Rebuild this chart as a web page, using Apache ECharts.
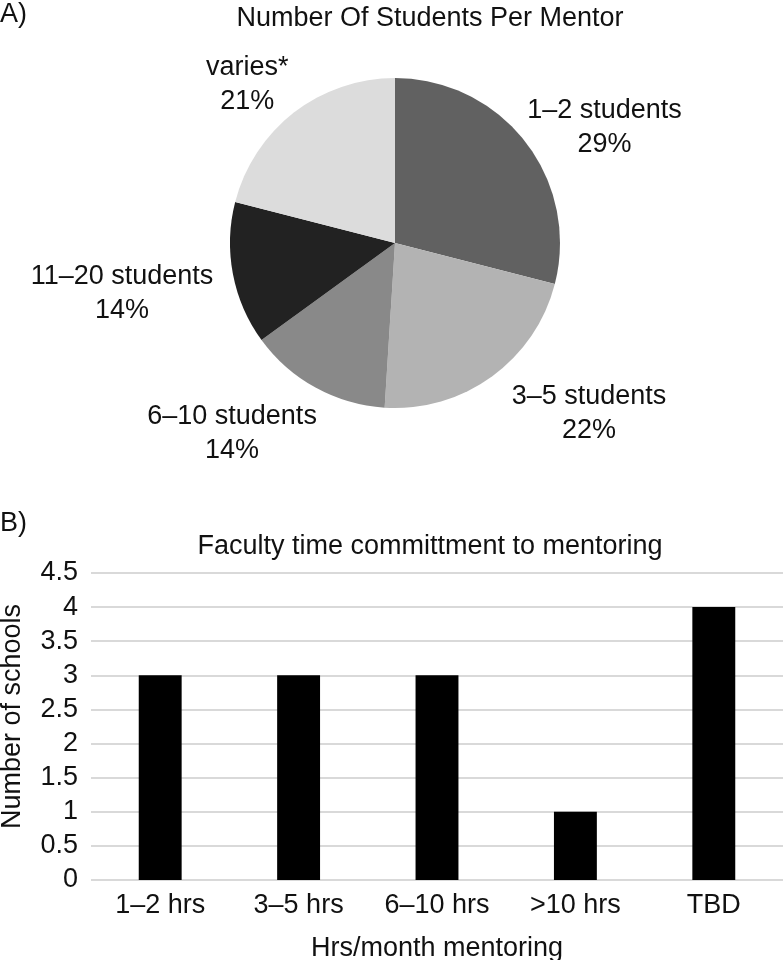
<!DOCTYPE html>
<html><head><meta charset="utf-8">
<script src="https://cdn.jsdelivr.net/npm/echarts@6/dist/echarts.min.js"></script>
<style>html,body{margin:0;padding:0;background:#fff}#c{width:783px;height:960px}</style>
</head><body><div id="c"></div>
<script>
var pieCategories = ['1–2 students', '3–5 students', '6–10 students', '11–20 students', 'varies*'];
var pieValues = [29, 22, 14, 14, 21];
var pieColors = ['#616161', '#b3b3b3', '#898989', '#222222', '#dcdcdc'];
var barCategories = ['1–2 hrs', '3–5 hrs', '6–10 hrs', '>10 hrs', 'TBD'];
var barValues = [3, 3, 3, 1, 4];

// small nudges to mimic the spreadsheet's "best fit" label placement
var pieLabelNudge = [[-19, -2], [3, 21], [16, 28], [5, 16], [12, -12]];

var FONT = 'Liberation Sans, Arial, sans-serif';
var FS = 27;
var chart = echarts.init(document.getElementById('c'), null, {renderer: 'canvas'});
var titleStyle = {fontFamily: FONT, fontSize: FS, fontWeight: 'normal', color: '#111'};
chart.setOption({
  backgroundColor: '#fff',
  animation: false,
  textStyle: {fontFamily: FONT, color: '#111'},
  title: [
    {text: 'A)', left: 0, top: 1, padding: 0, textStyle: titleStyle},
    {text: 'Number Of Students Per Mentor', left: 430, top: 5, padding: 0, textAlign: 'center', textStyle: titleStyle},
    {text: 'B)', left: 0, top: 510, padding: 0, textStyle: titleStyle},
    {text: 'Faculty time committment to mentoring', left: 430, top: 533, padding: 0, textAlign: 'center', textStyle: titleStyle}
  ],
  grid: {left: 91, right: 0, top: 573, height: 307, outerBoundsMode: 'none', containLabel: false},
  xAxis: {
    type: 'category', data: barCategories,
    axisLine: {show: false}, axisTick: {show: false},
    axisLabel: {fontSize: FS, color: '#111', fontFamily: FONT, margin: 12, interval: 0},
    name: 'Hrs/month mentoring', nameLocation: 'middle', nameGap: 55,
    nameTextStyle: {fontSize: FS, color: '#111', fontFamily: FONT}
  },
  yAxis: {
    type: 'value', min: 0, max: 4.5, interval: 0.5,
    axisLine: {show: false}, axisTick: {show: false},
    axisLabel: {fontSize: FS, color: '#111', fontFamily: FONT, margin: 13},
    splitLine: {lineStyle: {color: '#d9d9d9', width: 2}},
    name: 'Number of schools', nameLocation: 'middle', nameGap: 65,
    nameTextStyle: {fontSize: FS, color: '#111', fontFamily: FONT, padding: [0, 0, 0, 20]}
  },
  series: [
    {
      type: 'pie', center: [395, 243], radius: 165, startAngle: 90, clockwise: true,
      data: pieCategories.map(function (n, i) { return {name: n, value: pieValues[i], itemStyle: {color: pieColors[i]}}; }),
      label: {show: true, position: 'outside', formatter: '{b}\n{d}%', fontSize: FS, lineHeight: 34, color: '#111', fontFamily: FONT},
      labelLine: {show: false, length: 20, length2: 0},
      labelLayout: function (p) {
        var r = p.labelRect;
        var n = pieLabelNudge[p.dataIndex] || [0, 0];
        return {x: r.x + r.width / 2 + n[0], y: r.y + r.height / 2 + n[1], align: 'center', verticalAlign: 'middle'};
      },
      emphasis: {disabled: true}
    },
    {
      type: 'bar', data: barValues, barWidth: '31%',
      itemStyle: {color: '#000'}
    }
  ]
});
</script></body></html>
